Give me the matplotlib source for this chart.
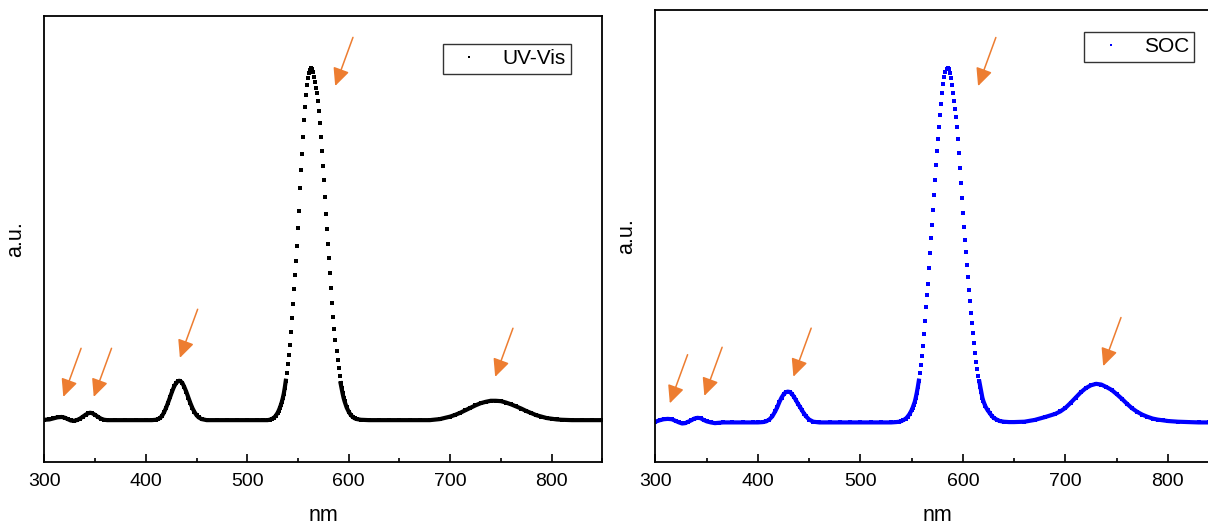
import numpy as np
import matplotlib.pyplot as plt
from matplotlib.ticker import MultipleLocator

plt.rcParams['font.family'] = ['Liberation Sans', 'DejaVu Sans']

# UV-Vis spectrum (left panel)
uv_nm = [300, 305, 309, 313, 317, 320, 323, 326, 329, 332, 335, 338, 341, 343, 345, 347,
         350, 353, 356, 359, 362, 370, 380, 390, 400, 406, 410, 412, 414, 416, 418, 420,
         422, 424, 426, 428, 430, 432, 433, 434, 436, 438, 440, 442, 444, 446, 448, 450,
         452, 455, 460, 470, 480, 490, 500, 510, 516, 520, 522, 524, 526, 528,
         530, 531, 532, 533, 534, 535, 536, 537, 538, 539, 540, 541, 542, 543, 544, 545,
         546, 547, 548, 549, 550, 551, 552, 553, 554, 555, 556, 557, 558, 559, 560, 561,
         562, 563, 564, 565, 566, 567, 568, 569, 570, 571, 572, 573, 574, 575, 576, 577,
         578, 579, 580, 581, 582, 583, 584, 585, 586, 587, 588, 589, 590, 591, 592, 593,
         594, 595, 596, 598, 600, 602, 604, 606, 608, 612, 620, 630, 640, 650, 660, 670,
         680, 690, 700, 705, 710, 715, 720, 725, 730, 735, 740, 745, 750, 755, 760, 765,
         770, 775, 780, 785, 790, 795, 800, 805, 810, 820, 830, 840, 850]
uv_val = [0.001, 0.002, 0.005, 0.008, 0.009, 0.007, 0.003, -0.001, -0.002, 0.000, 0.004, 0.010,
          0.016, 0.019, 0.021, 0.020, 0.015, 0.009, 0.004, 0.001, 0.000, 0.000, 0.000, 0.000,
          0.000, 0.000, 0.001, 0.003, 0.006, 0.012, 0.022, 0.035, 0.050, 0.066, 0.082, 0.096,
          0.106, 0.111, 0.112, 0.111, 0.106, 0.094, 0.080, 0.064, 0.048, 0.034, 0.023, 0.014,
          0.008, 0.003, 0.000, 0.000, 0.000, 0.000, 0.000, 0.000, 0.000, 0.000, 0.001, 0.003,
          0.006, 0.012,
          0.021, 0.027, 0.034, 0.042, 0.051, 0.062, 0.075, 0.092, 0.112, 0.135, 0.160, 0.185,
          0.215, 0.250, 0.290, 0.330, 0.372, 0.413, 0.452, 0.495, 0.545, 0.595, 0.660, 0.710,
          0.758, 0.805, 0.852, 0.890, 0.925, 0.952, 0.972, 0.986, 0.995, 1.000, 0.998, 0.990,
          0.975, 0.960, 0.945, 0.930, 0.908, 0.880, 0.845, 0.805, 0.764, 0.722, 0.683, 0.635,
          0.585, 0.543, 0.500, 0.460, 0.418, 0.376, 0.334, 0.294, 0.260, 0.228, 0.197, 0.172,
          0.148, 0.125, 0.105, 0.090, 0.076, 0.063, 0.053, 0.036, 0.024, 0.015, 0.009, 0.005,
          0.003, 0.001, 0.000, 0.000, 0.000, 0.000, 0.000, 0.000, 0.000, 0.003, 0.010, 0.015,
          0.021, 0.028, 0.035, 0.042, 0.048, 0.052, 0.055, 0.055, 0.054, 0.050, 0.045, 0.039,
          0.033, 0.026, 0.020, 0.014, 0.010, 0.006, 0.004, 0.002, 0.001, 0.000, 0.000, 0.000,
          0.000]

# SOC spectrum (right panel)
soc_nm = [300, 304, 308, 312, 316, 320, 323, 326, 329, 332, 335, 338, 341, 344, 347, 350,
          354, 358, 362, 366, 375, 385, 395, 400, 405, 408, 411, 414, 417, 419, 421, 423,
          425, 427, 429, 431, 433, 435, 437, 439, 441, 443, 445, 447, 450, 454, 460, 470,
          480, 490, 500, 510, 520, 530, 535, 538, 540, 542, 544, 546, 548,
          550, 551, 552, 553, 554, 555, 556, 557, 558, 559, 560, 561, 562, 563, 564, 565,
          566, 567, 568, 569, 570, 571, 572, 573, 574, 575, 576, 577, 578, 579, 580, 581,
          582, 583, 584, 585, 586, 587, 588, 589, 590, 591, 592, 593, 594, 595, 596, 597,
          598, 599, 600, 601, 602, 603, 604, 605, 606, 607, 608, 609, 610, 611, 612, 613,
          614, 615, 616, 617, 618, 619, 620, 622, 624, 626, 628, 630, 633, 636, 640, 645,
          650, 660, 670, 680, 690, 695, 700, 705, 710, 715, 720, 725, 730, 735, 740, 745,
          750, 755, 760, 765, 770, 775, 780, 785, 790, 795, 800, 810, 820, 830, 840, 850]
soc_val = [0.002, 0.006, 0.009, 0.010, 0.009, 0.004, 0.000, -0.003, -0.002, 0.002, 0.006, 0.011,
           0.013, 0.012, 0.007, 0.003, 0.000, -0.002, -0.001, 0.000, 0.000, 0.000, 0.000, 0.000,
           0.001, 0.003, 0.008, 0.017, 0.032, 0.044, 0.058, 0.070, 0.079, 0.085, 0.087, 0.086,
           0.081, 0.073, 0.063, 0.053, 0.044, 0.034, 0.025, 0.017, 0.008, 0.002, 0.000, 0.000,
           0.000, 0.000, 0.000, 0.000, 0.000, 0.000, 0.001, 0.002, 0.004, 0.007, 0.010, 0.016,
           0.024,
           0.035, 0.042, 0.050, 0.058, 0.070, 0.084, 0.100, 0.118, 0.140, 0.163, 0.188, 0.215,
           0.250, 0.287, 0.326, 0.360, 0.392, 0.435, 0.478, 0.520, 0.558, 0.600, 0.642, 0.685,
           0.728, 0.766, 0.800, 0.835, 0.868, 0.900, 0.930, 0.955, 0.975, 0.990, 0.998, 1.000,
           0.997, 0.988, 0.972, 0.952, 0.930, 0.907, 0.884, 0.862, 0.835, 0.800, 0.760, 0.718,
           0.675, 0.634, 0.592, 0.553, 0.515, 0.480, 0.445, 0.410, 0.375, 0.342, 0.310, 0.281,
           0.253, 0.225, 0.196, 0.172, 0.150, 0.132, 0.116, 0.101, 0.085, 0.070, 0.060, 0.045,
           0.035, 0.027, 0.019, 0.013, 0.008, 0.004, 0.002, 0.001, 0.001, 0.002, 0.007, 0.015,
           0.024, 0.031, 0.041, 0.055, 0.070, 0.085, 0.097, 0.105, 0.109, 0.107, 0.100, 0.092,
           0.080, 0.067, 0.053, 0.040, 0.030, 0.022, 0.016, 0.011, 0.008, 0.006, 0.004, 0.002,
           0.001, 0.000, 0.000, 0.000]

# arrow tips (nm, a.u.)
uv_arrow_nm = [318.7, 348.7, 433.6, 586.7, 744.4]
uv_arrow_val = [0.066, 0.066, 0.177, 0.950, 0.123]
soc_arrow_nm = [314.0, 347.7, 434.6, 614.8, 736.9]
soc_arrow_val = [0.054, 0.075, 0.129, 0.950, 0.159]

orange = '#ED7D31'


def draw(ax, nm, val, color, label, arrow_nm, arrow_val, ylim, leg_anchor):
    nm = np.array(nm)
    val = np.array(val)
    # solid look where the curve is flat, separate dots where it is steep
    flat = np.where(val < 0.12, val, np.nan)
    ax.plot(nm, flat, '-', color=color, lw=3.0, solid_joinstyle='round')
    ax.plot(nm, val, 's', color=color, ms=2.9, mew=0)
    ax.plot([], [], 's', color=color, ms=2.0, mew=0, label=label)

    for x, y in zip(arrow_nm, arrow_val):
        ax.annotate('', xy=(x, y), xytext=(12.8, 35), textcoords='offset points',
                    arrowprops=dict(arrowstyle='-|>,head_length=0.9,head_width=0.42',
                                    mutation_scale=12, color=orange, lw=1.1,
                                    shrinkA=0, shrinkB=0))

    ax.set_xlim(300, 850)
    ax.set_ylim(*ylim)
    ax.xaxis.set_major_locator(MultipleLocator(100))
    ax.xaxis.set_minor_locator(MultipleLocator(50))
    ax.tick_params(axis='x', which='major', direction='in', length=6, width=1.2,
                   labelsize=14, pad=8)
    ax.tick_params(axis='x', which='minor', direction='in', length=3, width=1.2)
    ax.set_yticks([])
    for s in ax.spines.values():
        s.set_linewidth(1.3)
    ax.set_xlabel('nm', fontsize=15.5, labelpad=11)
    ax.set_ylabel('a.u.', fontsize=15.5, labelpad=13)

    leg = ax.legend(loc='upper right', bbox_to_anchor=leg_anchor, fontsize=15,
                    numpoints=1, handlelength=2.0, handletextpad=0.6, borderpad=0.25,
                    borderaxespad=0, fancybox=False, framealpha=1, edgecolor='#333333')
    leg.get_frame().set_linewidth(1.0)


fig = plt.figure(figsize=(12.08, 5.26), dpi=100)
ax1 = fig.add_axes([0.0367, 0.1217, 0.4619, 0.8479])
ax2 = fig.add_axes([0.5426, 0.1222, 0.4666, 0.8588])

draw(ax1, uv_nm, uv_val, 'black', 'UV-Vis', uv_arrow_nm, uv_arrow_val,
     (-0.119, 1.149), (0.943, 0.937))
draw(ax2, soc_nm, soc_val, '#0000FF', 'SOC', soc_arrow_nm, soc_arrow_val,
     (-0.111, 1.165), (0.956, 0.951))

fig.savefig('out.png', dpi=100)
